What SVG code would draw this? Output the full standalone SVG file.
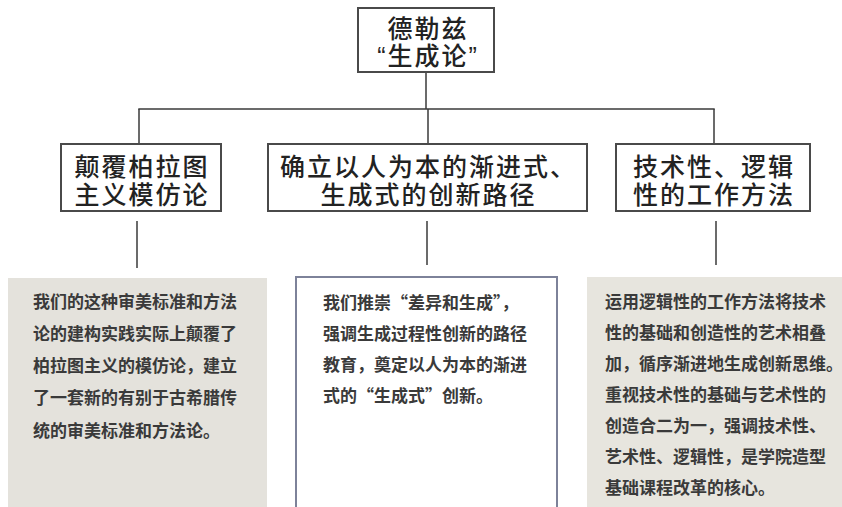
<svg xmlns="http://www.w3.org/2000/svg" width="842" height="507" viewBox="0 0 842 507">
<style>
  .box { fill: #ffffff; stroke: #4a4a4a; stroke-width: 2; }
  .head { font-family: "Liberation Sans", "Noto Sans CJK SC", sans-serif; font-size: 25px; font-weight: 500; letter-spacing: 2px; fill: #222222; text-anchor: middle; }
  .body { font-family: "Noto Sans CJK SC", sans-serif; font-size: 17px; font-weight: 700; fill: #3a3a3a; }
  .conn line { stroke: #3a3a3a; stroke-width: 1.5; }
</style>
<rect x="0" y="0" width="842" height="507" fill="#ffffff"/>

<g id="connectors" class="conn">
  <line x1="426" y1="72" x2="426" y2="109"/>
  <line x1="138.3" y1="109" x2="714.7" y2="109"/>
  <line x1="139" y1="109" x2="139" y2="144"/>
  <line x1="428" y1="109" x2="428" y2="144"/>
  <line x1="714" y1="109" x2="714" y2="144"/>
  <line x1="137" y1="221" x2="137" y2="268"/>
  <line x1="427" y1="221" x2="427" y2="265"/>
  <line x1="716" y1="221" x2="716" y2="265"/>
</g>

<g id="root">
  <rect class="box" x="358" y="8" width="136" height="64"/>
  <text class="head" font-size="22" letter-spacing="4"><tspan x="428" y="38">德勒兹</tspan><tspan x="428" y="65">“生成论”</tspan></text>
</g>

<g id="node-left">
  <rect class="box" x="61" y="144" width="160" height="67"/>
  <text class="head"><tspan x="142" y="176">颠覆柏拉图</tspan><tspan x="142" y="204">主义模仿论</tspan></text>
</g>

<g id="node-middle">
  <rect class="box" x="268" y="144" width="319" height="67"/>
  <text class="head"><tspan x="428.5" y="176">确立以人为本的渐进式、</tspan><tspan x="428.5" y="204">生成式的创新路径</tspan></text>
</g>

<g id="node-right">
  <rect class="box" x="616" y="144" width="194" height="67"/>
  <text class="head"><tspan x="714" y="176">技术性、逻辑</tspan><tspan x="714" y="204">性的工作方法</tspan></text>
</g>

<g id="panel-left">
  <rect x="8" y="278" width="259" height="240" fill="#e4e2dc"/>
  <text class="body" x="33" y="307.5">我们的这种审美标准和方法</text>
  <text class="body" x="33" y="339.5">论的建构实践实际上颠覆了</text>
  <text class="body" x="33" y="371.5">柏拉图主义的模仿论，建立</text>
  <text class="body" x="33" y="404">了一套新的有别于古希腊传</text>
  <text class="body" x="33" y="436.5">统的审美标准和方法论。</text>
</g>

<g id="panel-middle">
  <rect x="296" y="277" width="261" height="240" fill="#ffffff" stroke="#7d8299" stroke-width="2"/>
  <text class="body" x="323" y="308.5">我们推崇“差异和生成”，</text>
  <text class="body" x="323" y="339.5">强调生成过程性创新的路径</text>
  <text class="body" x="323" y="370.5">教育，奠定以人为本的渐进</text>
  <text class="body" x="323" y="401.5">式的“生成式”创新。</text>
</g>

<g id="panel-right">
  <rect x="587" y="277" width="260" height="240" fill="#e7e5de"/>
  <text class="body" x="605" y="307.5">运用逻辑性的工作方法将技术</text>
  <text class="body" x="605" y="338.5">性的基础和创造性的艺术相叠</text>
  <text class="body" x="605" y="369.5">加，循序渐进地生成创新思维。</text>
  <text class="body" x="605" y="400.5">重视技术性的基础与艺术性的</text>
  <text class="body" x="605" y="431.5">创造合二为一，强调技术性、</text>
  <text class="body" x="605" y="462.5">艺术性、逻辑性，是学院造型</text>
  <text class="body" x="605" y="493.5">基础课程改革的核心。</text>
</g>
</svg>
